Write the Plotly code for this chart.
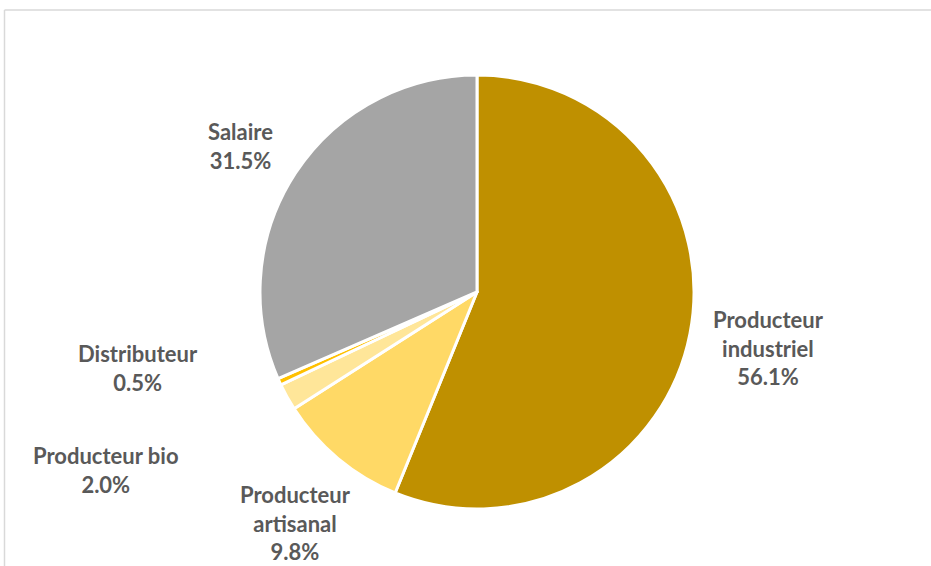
import plotly.graph_objects as go

categories = ["Producteur industriel", "Producteur artisanal", "Producteur bio", "Distributeur", "Salaire"]
values = [56.1, 9.8, 2.0, 0.5, 31.5]
colors = ["#BF9000", "#FFD966", "#FFE699", "#FFC000", "#A5A5A5"]
# label text lines as shown in chart
label_lines = [["Producteur", "industriel"], ["Producteur", "artisanal"], ["Producteur bio"], ["Distributeur"], ["Salaire"]]
# label anchor positions (pixels, center of text block)
label_pos = [(768, 348), (295, 523), (106, 470), (138, 368), (241, 146)]

W, H = 931, 566
cx, cy, r = 477, 292, 217

fig = go.Figure(go.Pie(
    labels=categories,
    values=values,
    sort=False,
    direction="clockwise",
    rotation=0,
    marker=dict(colors=colors, line=dict(color="white", width=3)),
    textinfo="none",
    hoverinfo="label+percent",
    showlegend=False,
    domain=dict(x=[(cx - r) / W, (cx + r) / W], y=[(H - cy - r) / H, (H - cy + r) / H]),
))

annotations = []
for lines, v, (px, py) in zip(label_lines, values, label_pos):
    text = "<br>".join(lines + [f"{v:.1f}%"])
    annotations.append(dict(
        x=px / W, y=1 - py / H, xref="paper", yref="paper",
        text=text, showarrow=False, align="center",
        xanchor="center", yanchor="middle",
        font=dict(family="Lato", size=22, color="#595959", weight="bold"),
    ))

fig.update_layout(
    width=W, height=H,
    margin=dict(l=0, r=0, t=0, b=0),
    paper_bgcolor="white",
    plot_bgcolor="white",
    annotations=annotations,
    shapes=[
        dict(type="line", xref="paper", yref="paper", x0=4.5 / W, x1=1.0, y0=1 - 10 / H, y1=1 - 10 / H,
             line=dict(color="#D9D9D9", width=1.5)),
        dict(type="line", xref="paper", yref="paper", x0=4.5 / W, x1=4.5 / W, y0=0, y1=1 - 10 / H,
             line=dict(color="#D9D9D9", width=1.5)),
    ],
)

fig.write_html("out.html", config={"displayModeBar": False},
               post_script="document.body.style.margin='0';document.body.style.overflow='hidden';")
